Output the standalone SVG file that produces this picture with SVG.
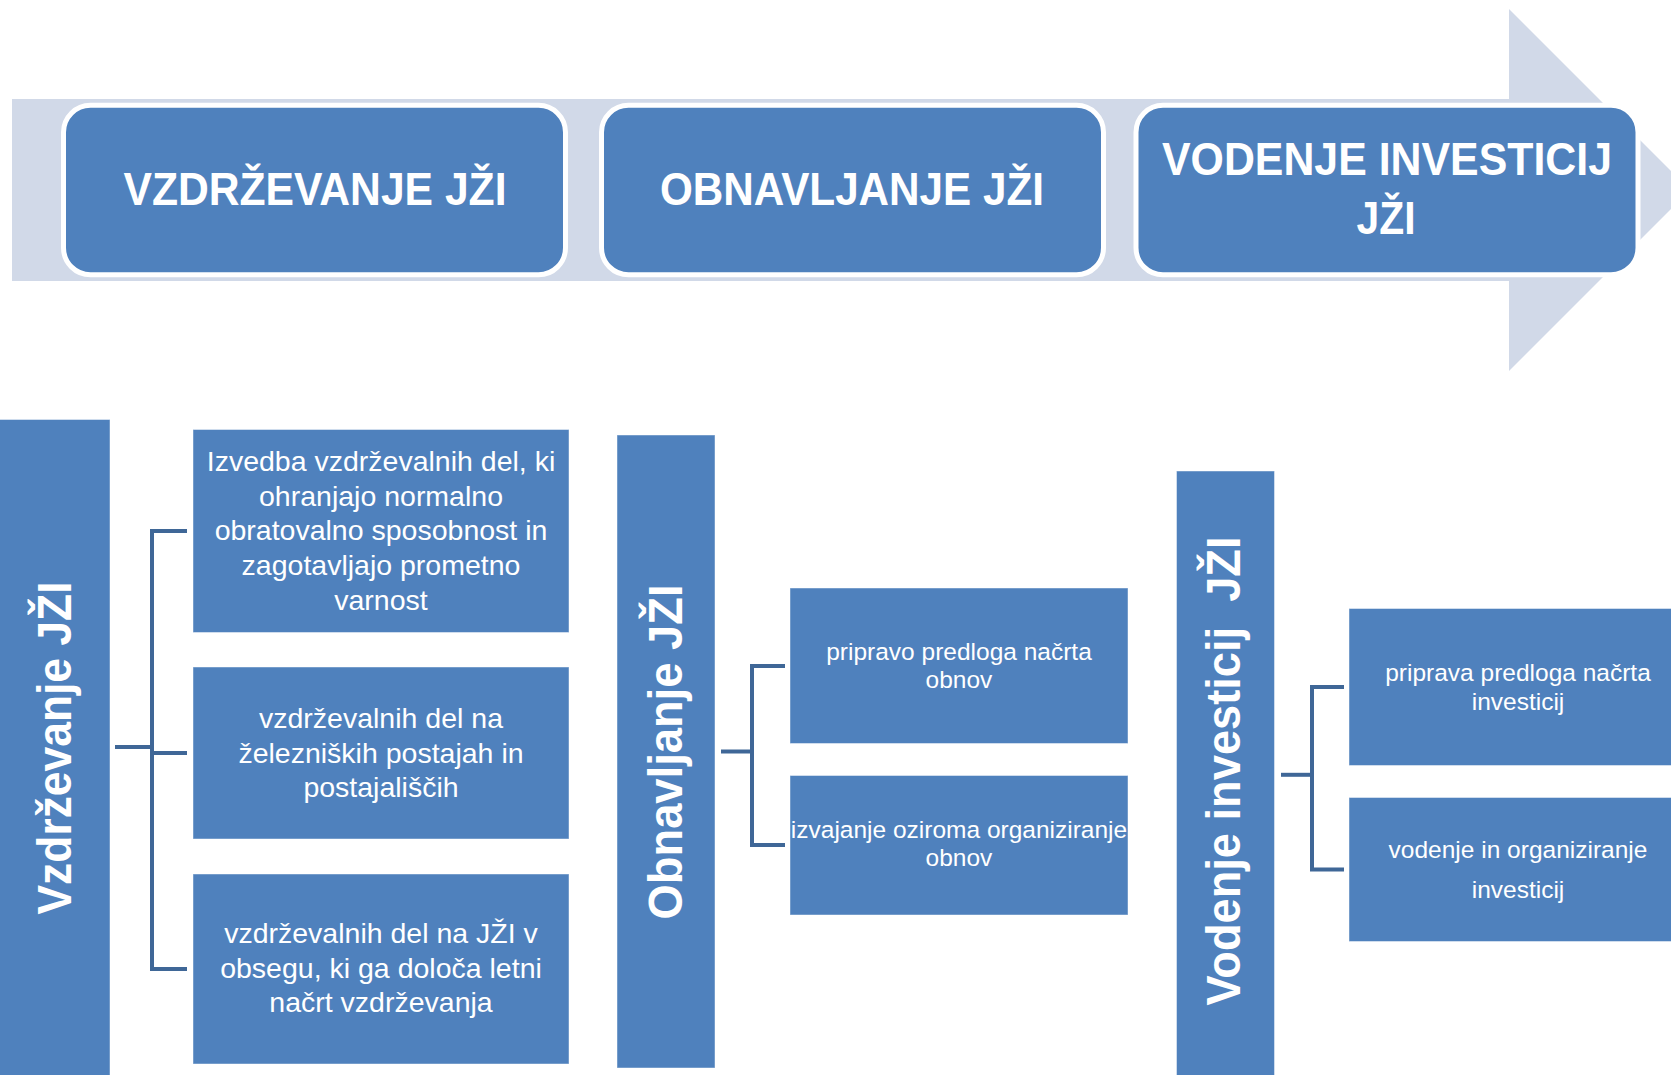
<svg xmlns="http://www.w3.org/2000/svg" width="1671" height="1075" viewBox="0 0 1671 1075">
<defs>
<style>
.band{fill:#D1D9E8}
.top{fill:#4F81BD;stroke:#FFFFFF;stroke-width:5}
.tt{font-family:"Liberation Sans",Arial,sans-serif;font-weight:bold;font-size:47px;fill:#FFFFFF;text-anchor:middle}
.bar{fill:#4F81BD;stroke:#FFFFFF;stroke-opacity:0.45;stroke-width:1}
.vt{font-family:"Liberation Sans",Arial,sans-serif;font-weight:bold;font-size:49px;fill:#FFFFFF;text-anchor:middle;white-space:pre}
.box{fill:#4F81BD;stroke:#FFFFFF;stroke-opacity:0.45;stroke-width:1}
.t1{font-family:"Liberation Sans",Arial,sans-serif;font-size:28.5px;fill:#FFFFFF;text-anchor:middle}
.t2{font-family:"Liberation Sans",Arial,sans-serif;font-size:24.5px;fill:#FFFFFF;text-anchor:middle}
.conn{fill:none;stroke:#3F6797;stroke-width:4;stroke-linejoin:miter;stroke-linecap:butt}
</style>
</defs>
<rect x="0" y="0" width="1671" height="1075" fill="#FFFFFF"/>

<g id="process-arrow">
<polygon class="band" points="12,99 1509,99 1509,9 1690,190 1509,371 1509,281 12,281"/>
</g>

<g id="top-vzdrzevanje">
<rect class="top" x="63.5" y="105.3" width="502" height="169.5" rx="27" ry="27"/>
<text class="tt" x="315" y="205" textLength="383" lengthAdjust="spacingAndGlyphs">VZDRŽEVANJE JŽI</text>
</g>
<g id="top-obnavljanje">
<rect class="top" x="601.5" y="105.3" width="502" height="169.5" rx="27" ry="27"/>
<text class="tt" x="852" y="205" textLength="384" lengthAdjust="spacingAndGlyphs">OBNAVLJANJE JŽI</text>
</g>
<g id="top-vodenje">
<rect class="top" x="1136" y="105.3" width="502" height="169.5" rx="27" ry="27"/>
<text class="tt" x="1387" y="175" textLength="450" lengthAdjust="spacingAndGlyphs">VODENJE INVESTICIJ</text>
<text class="tt" x="1386" y="234" textLength="59" lengthAdjust="spacingAndGlyphs">JŽI</text>
</g>

<g id="connectors">
<path class="conn" d="M115,747 H152"/>
<path class="conn" d="M187,531 H152 V969 H187"/>
<path class="conn" d="M152,753 H187"/>
<path class="conn" d="M721,751.5 H752"/>
<path class="conn" d="M785,666 H752 V845 H785"/>
<path class="conn" d="M1281,774.8 H1312"/>
<path class="conn" d="M1344,687 H1312 V869.5 H1344"/>
</g>

<g id="bar-vzdrzevanje">
<rect class="bar" x="-1" y="419.5" width="111" height="662"/>
<text class="vt" transform="translate(71,748) rotate(-90)" textLength="333" lengthAdjust="spacingAndGlyphs">Vzdrževanje JŽI</text>
</g>
<g id="box-izvedba">
<rect class="box" x="193" y="429.5" width="376" height="203"/>
<text class="t1" x="381" y="471">Izvedba vzdrževalnih del, ki</text>
<text class="t1" x="381" y="505.7">ohranjajo normalno</text>
<text class="t1" x="381" y="540.4">obratovalno sposobnost in</text>
<text class="t1" x="381" y="575.1">zagotavljajo prometno</text>
<text class="t1" x="381" y="609.8">varnost</text>
</g>
<g id="box-postaje">
<rect class="box" x="193" y="667" width="376" height="172"/>
<text class="t1" x="381" y="728">vzdrževalnih del na</text>
<text class="t1" x="381" y="762.7">železniških postajah in</text>
<text class="t1" x="381" y="797.4">postajališčih</text>
</g>
<g id="box-letni-nacrt">
<rect class="box" x="193" y="874" width="376" height="190"/>
<text class="t1" x="381" y="943">vzdrževalnih del na JŽI v</text>
<text class="t1" x="381" y="977.7">obsegu, ki ga določa letni</text>
<text class="t1" x="381" y="1012.4">načrt vzdrževanja</text>
</g>

<g id="bar-obnavljanje">
<rect class="bar" x="617" y="435" width="98" height="633"/>
<text class="vt" transform="translate(682,752) rotate(-90)" textLength="335" lengthAdjust="spacingAndGlyphs">Obnavljanje JŽI</text>
</g>
<g id="box-priprava-obnov">
<rect class="box" x="790" y="588" width="338" height="155.5"/>
<text class="t2" x="959" y="659.5">pripravo predloga načrta</text>
<text class="t2" x="959" y="688">obnov</text>
</g>
<g id="box-izvajanje-obnov">
<rect class="box" x="790" y="775.5" width="338" height="139.5"/>
<text class="t2" x="959" y="837.7">izvajanje oziroma organiziranje</text>
<text class="t2" x="959" y="866.3">obnov</text>
</g>

<g id="bar-vodenje">
<rect class="bar" x="1176.5" y="471" width="98" height="610"/>
<text class="vt" transform="translate(1240,771) rotate(-90)" textLength="469" lengthAdjust="spacingAndGlyphs" xml:space="preserve">Vodenje investicij  JŽI</text>
</g>
<g id="box-priprava-investicij">
<rect class="box" x="1349" y="608.5" width="340" height="157"/>
<text class="t2" x="1518" y="681">priprava predloga načrta</text>
<text class="t2" x="1518" y="709.8">investicij</text>
</g>
<g id="box-vodenje-investicij">
<rect class="box" x="1349" y="797.5" width="340" height="144"/>
<text class="t2" x="1518" y="858">vodenje in organiziranje</text>
<text class="t2" x="1518" y="898.4">investicij</text>
</g>
</svg>
